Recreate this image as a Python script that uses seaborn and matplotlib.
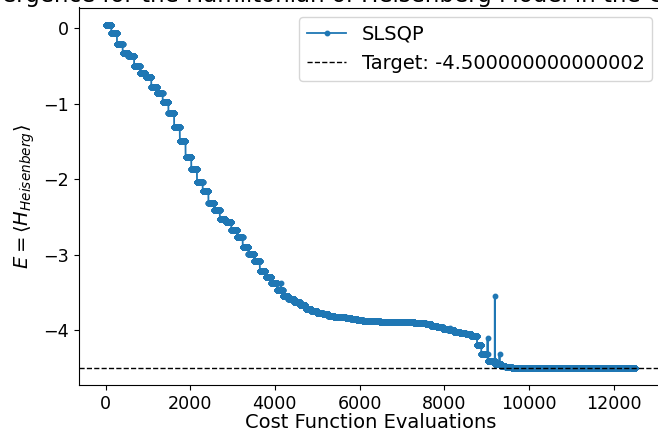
import numpy as np
import pandas as pd
import matplotlib
matplotlib.use("Agg")
import matplotlib.pyplot as plt
import seaborn as sns

# ---- data (plateau energy, evaluations in plateau) ----
plateau_energy = [
    0.05, -0.06, -0.20, -0.32, -0.37, -0.50, -0.59, -0.65, -0.77, -0.86,
    -0.97, -1.12, -1.31, -1.49, -1.71, -1.86, -2.04, -2.15, -2.31, -2.41,
    -2.53, -2.57, -2.67, -2.77, -2.89, -2.99, -3.08, -3.22, -3.29, -3.37,
    -3.47, -3.37, -3.47,
    -3.54, -3.59, -3.63, -3.67, -3.72, -3.75, -3.77, -3.79, -3.81, -3.82,
    -3.83, -3.84, -3.85, -3.86, -3.87, -3.875, -3.88, -3.885, -3.89, -3.89,
    -3.89, -3.895, -3.895, -3.90, -3.90, -3.92, -3.94, -3.96, -3.98,
    -4.00, -3.97, -4.00,
    -4.02, -4.03, -4.05, -4.07,
    -4.19, -4.31, -4.10, -4.41, -3.54, -4.45, -4.31, -4.45,
    -4.475, -4.485, -4.497,
]
plateau_evals = [
    135, 135, 135, 135, 135, 135, 135, 135, 135, 135,
    135, 135, 135, 135, 135, 135, 135, 135, 135, 135,
    135, 135, 135, 135, 135, 135, 135, 135, 135, 135,
    87, 1, 47,
    135, 135, 135, 135, 135, 135, 135, 135, 135, 135,
    135, 135, 135, 135, 135, 135, 135, 135, 135, 135,
    135, 135, 135, 135, 135, 135, 135, 135, 135,
    39, 1, 95,
    135, 135, 135, 135,
    100, 150, 1, 170, 1, 110, 1, 40,
    100, 150, 2922,
]
series_label = "SLSQP"
target_energy = -4.500000000000002
title_text = "Convergence for the Hamiltonian of Heisenberg Model in the Cubic Lattice"
x_label = "Cost Function Evaluations"
y_label = r"$E = \langle H_{Heisenberg} \rangle$"

energies = np.repeat(plateau_energy, plateau_evals)
df = pd.DataFrame({"evals": np.arange(len(energies)), "energy": energies})

fig = plt.figure(figsize=(6.58, 4.30), dpi=100)
ax = fig.add_axes([79 / 658, 45 / 430, 583 / 658, 377.5 / 430])

sns.lineplot(data=df, x="evals", y="energy", ax=ax, estimator=None, sort=False,
             color="#1f77b4", marker="o", markersize=3.2,
             markeredgecolor="#1f77b4", markeredgewidth=1.0,
             linewidth=1.3, label=series_label)
ax.axhline(target_energy, color="black", linestyle="--", linewidth=1.0,
           label=f"Target: {target_energy}")

ax.set_xlabel(x_label, fontsize=14, labelpad=0.2)
ax.set_ylabel(y_label, fontsize=14, labelpad=5)
ax.set_title(title_text, fontsize=16.5, pad=1.5)
ax.tick_params(labelsize=12.6)
ax.legend(loc="upper right", fontsize=14)

fig.savefig("out.png", dpi=100)
